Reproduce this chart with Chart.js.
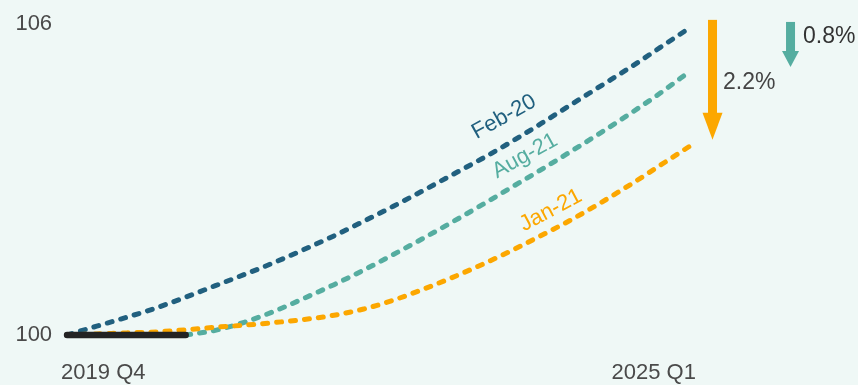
<!DOCTYPE html>
<html>
<head>
<meta charset="utf-8">
<script src="https://cdn.jsdelivr.net/npm/chart.js@4.4.1/dist/chart.umd.min.js"></script>
<style>
  html, body { margin: 0; padding: 0; background: #eff8f6; }
  #wrap { width: 858px; height: 385px; position: relative; }
</style>
</head>
<body>
<div id="wrap"><canvas id="c" width="858" height="385"></canvas></div>
<script>
// ---- data ----
const quarters = ['2019 Q4','2020 Q1','2020 Q2','2020 Q3','2020 Q4','2021 Q1','2021 Q2','2021 Q3','2021 Q4',
  '2022 Q1','2022 Q2','2022 Q3','2022 Q4','2023 Q1','2023 Q2','2023 Q3','2023 Q4','2024 Q1','2024 Q2','2024 Q3','2024 Q4','2025 Q1'];
const xTickLabels = ['2019 Q4', '2025 Q1'];
const yTickValues = [100, 106];
const actual = [100, 100, 100, 100, 100];
const feb20 = [100, 100.17, 100.34, 100.52, 100.73, 100.95, 101.17, 101.40, 101.65, 101.91, 102.19,
  102.48, 102.78, 103.09, 103.40, 103.73, 104.08, 104.44, 104.80, 105.16, 105.54, 105.92];
const aug21 = [null, null, null, null, 100, 100.09, 100.25, 100.46, 100.71, 100.97, 101.25,
  101.55, 101.86, 102.18, 102.51, 102.85, 103.19, 103.54, 103.90, 104.27, 104.66, 105.08];
const jan21 = [100, 100.02, 100.04, 100.06, 100.10, 100.15, 100.19, 100.24, 100.30, 100.38, 100.50,
  100.67, 100.88, 101.11, 101.36, 101.63, 101.92, 102.22, 102.55, 102.90, 103.27, 103.64];
const seriesNames = ['Feb-20', 'Aug-21', 'Jan-21'];
const gapLabels = ['2.2%', '0.8%'];

// ---- styles ----
const C_BLUE = '#21607f', C_TEAL = '#55ada0', C_ORANGE = '#fca700', C_BLACK = '#232323';
const TXT = '#4a4a4a';
const FONT = '"Liberation Sans", Arial, sans-serif';

const toXY = arr => arr.map((v, i) => ({ x: i, y: v })).filter(p => p.y !== null);

const dashed = (data, color, order) => ({
  data: toXY(data), borderColor: color, borderWidth: 5, borderDash: [5, 9], order, clip: false,
  borderCapStyle: 'round', pointRadius: 0, cubicInterpolationMode: 'monotone', fill: false
});

const bgPlugin = {
  id: 'bg',
  beforeDraw(chart) {
    const { ctx, width, height } = chart;
    ctx.save(); ctx.fillStyle = '#eff8f6'; ctx.fillRect(0, 0, width, height); ctx.restore();
  }
};

function arrow(ctx, xp, y1, y2, color, shaftW, headW, headL) {
  ctx.save();
  ctx.fillStyle = color;
  ctx.fillRect(xp - shaftW / 2, y1, shaftW, (y2 - headL) - y1 + 0.5);
  ctx.beginPath();
  ctx.moveTo(xp - headW / 2, y2 - headL);
  ctx.lineTo(xp + headW / 2, y2 - headL);
  ctx.lineTo(xp, y2);
  ctx.closePath();
  ctx.fill();
  ctx.restore();
}

const annotPlugin = {
  id: 'annot',
  afterDatasetsDraw(chart) {
    const { ctx } = chart;
    const xs = chart.scales.x, ys = chart.scales.y;
    const anchors = [
      { t: seriesNames[0], xi: 14.73, v: 104.20, c: C_BLUE, a: -29 },
      { t: seriesNames[1], xi: 15.44, v: 103.45, c: C_TEAL, a: -29 },
      { t: seriesNames[2], xi: 16.31, v: 102.40, c: C_ORANGE, a: -28 }
    ];
    ctx.save();
    ctx.font = '22px ' + FONT;
    ctx.textAlign = 'center'; ctx.textBaseline = 'middle';
    anchors.forEach(l => {
      ctx.save();
      ctx.translate(xs.getPixelForValue(l.xi), ys.getPixelForValue(l.v));
      ctx.rotate(l.a * Math.PI / 180);
      ctx.fillStyle = l.c;
      ctx.fillText(l.t, 0, 0);
      ctx.restore();
    });
    ctx.restore();
    arrow(ctx, xs.getPixelForValue(21.76), ys.getPixelForValue(106.07), ys.getPixelForValue(103.76),
      C_ORANGE, 9, 20, 27);
    arrow(ctx, xs.getPixelForValue(24.39), ys.getPixelForValue(106.03), ys.getPixelForValue(105.16),
      C_TEAL, 9, 17, 16);
    ctx.save();
    ctx.font = '23px ' + FONT;
    ctx.textAlign = 'left'; ctx.textBaseline = 'middle';
    ctx.fillStyle = '#444';
    ctx.fillText(gapLabels[0], xs.getPixelForValue(21.76) + 10.5, ys.getPixelForValue(104.86));
    ctx.fillStyle = '#333';
    ctx.fillText(gapLabels[1], xs.getPixelForValue(24.39) + 12.5, ys.getPixelForValue(105.75));
    ctx.restore();
  }
};

new Chart(document.getElementById('c'), {
  type: 'line',
  data: {
    datasets: [
      { data: toXY(actual), borderColor: C_BLACK, borderWidth: 6.5, borderCapStyle: 'round',
        pointRadius: 0, fill: false, order: 0, clip: false },
      dashed(jan21, C_ORANGE, 1),
      dashed(aug21, C_TEAL, 2),
      dashed(feb20, C_BLUE, 3)
    ]
  },
  options: {
    responsive: false,
    animation: false,
    layout: { padding: { left: 14.4, right: 162.1, top: 23.5, bottom: 0 } },
    plugins: { legend: { display: false }, tooltip: { enabled: false }, title: { display: false } },
    scales: {
      x: {
        type: 'linear', min: -0.2, max: quarters.length - 1 + 0.2,
        grid: { display: false }, border: { display: false },
        afterBuildTicks(s) { s.ticks = [{ value: s.min }, { value: s.max }]; },
        afterFit(s) { s.height = 50; },
        ticks: {
          autoSkip: false, maxRotation: 0, align: 'inner', padding: 17,
          color: TXT, font: { family: FONT, size: 22 },
          callback: (v, i) => xTickLabels[i]
        }
      },
      y: {
        min: yTickValues[0], max: yTickValues[1],
        grid: { display: false }, border: { display: false },
        afterBuildTicks(s) { s.ticks = yTickValues.map(v => ({ value: v })); },
        ticks: { padding: 1, color: TXT, font: { family: FONT, size: 22 } }
      }
    }
  },
  plugins: [bgPlugin, annotPlugin]
});
</script>
</body>
</html>
